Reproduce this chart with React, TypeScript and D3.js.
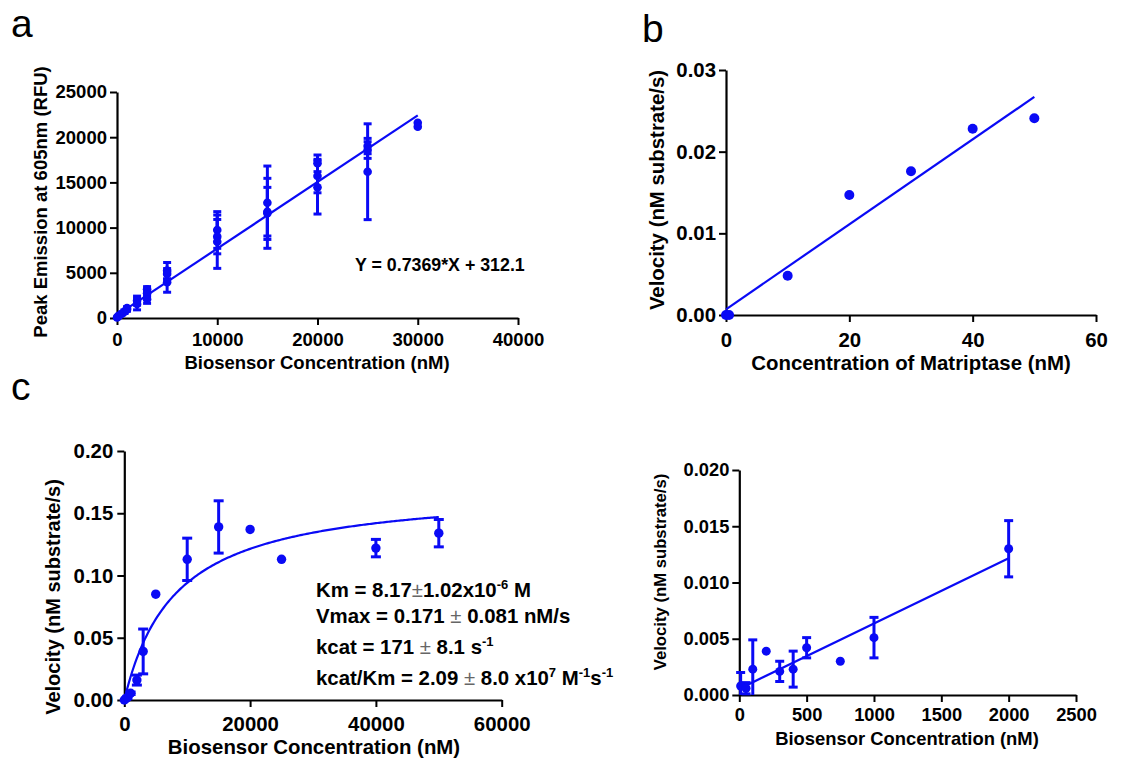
import React, { useEffect, useRef } from 'react';
import * as d3 from 'd3';

// ---- panel a: peak emission vs biosensor concentration (replicates flattened) ----
const aConc = [0, 100, 250, 500, 750, 1000, 1000, 2000, 2000, 3000, 3000, 3000, 5000, 5000, 5000,
  10000, 10000, 10000, 15000, 15000, 15000, 20000, 20000, 20000, 25000, 25000, 25000, 30000, 30000];
const aPeak = [50, 150, 300, 500, 700, 950, 1100, 1920, 1550, 3170, 2730, 2070, 5240, 4870, 3950,
  9735, 9000, 8440, 12750, 11760, 11580, 17110, 15700, 14450, 19020, 18580, 16180, 21600, 21160];
const aErr = [60, 80, 120, 150, 200, 200, 150, 500, 650, 300, 400, 450, 900, 600, 1100,
  2030, 1900, 2950, 4060, 2690, 3870, 920, 1850, 2950, 850, 920, 5300, 0, 0];
const aSlope = 0.7369;
const aIntercept = 312.1;
const aXTicks = [0, 10000, 20000, 30000, 40000];
const aYTicks = [0, 5000, 10000, 15000, 20000, 25000];

// ---- panel b: velocity vs matriptase ----
const bConc = [0, 0.5, 10, 20, 30, 40, 50];
const bVel = [0, 0, 0.0048, 0.0147, 0.0176, 0.0228, 0.0241];
const bSlope = 0.00052;
const bIntercept = 0.0007;
const bXTicks = [0, 20, 40, 60];
const bYTicks = [0, 0.01, 0.02, 0.03];

// ---- panel c: Michaelis-Menten ----
const cConc = [0, 250, 500, 1000, 2000, 3000, 5000, 10000, 15000, 20000, 25000, 40000, 50000];
const cVel = [0, 0.001, 0.002, 0.0054, 0.016, 0.039, 0.085, 0.113, 0.139, 0.137, 0.113, 0.122, 0.134];
const cErr = [0, 0, 0.001, 0.001, 0.004, 0.018, 0, 0.017, 0.021, 0, 0, 0.007, 0.011];
const cVmax = 0.171;
const cKm = 8170;
const cXTicks = [0, 20000, 40000, 60000];
const cYTicks = [0, 0.05, 0.1, 0.15, 0.2];

// ---- panel d: low concentration range ----
const dConc = [10, 50, 100, 200, 300, 400, 500, 750, 1000, 2000];
const dVel = [0.0008, 0.0006, 0.0023, 0.0039, 0.0021, 0.0023, 0.0042, 0.003, 0.0051, 0.013];
const dErr = [0.0012, 0.0005, 0.0026, 0, 0.0009, 0.0016, 0.0009, 0, 0.0018, 0.0025];
const dSlope = 0.0000058;
const dIntercept = 0.00055;
const dXTicks = [0, 500, 1000, 1500, 2000, 2500];
const dYTicks = [0, 0.005, 0.01, 0.015, 0.02];

const BLUE = '#0a0af5';
const FONT = '"Liberation Sans", Arial, sans-serif';

type Panel = {
  xDomain: number[]; xRange: number[]; yDomain: number[]; yRange: number[];
  xTicks: number[]; yTicks: number[]; xFmt: (d: number) => string; yFmt: (d: number) => string;
  fs: number; xPad: number; yPad: number;
};

function drawAxes(g: any, p: Panel) {
  const x = d3.scaleLinear().domain(p.xDomain).range(p.xRange);
  const y = d3.scaleLinear().domain(p.yDomain).range(p.yRange);

  const xAxis = d3.axisBottom(x).tickValues(p.xTicks).tickFormat(p.xFmt as any)
    .tickSize(7).tickSizeOuter(0).tickPadding(p.xPad);
  const yAxis = d3.axisLeft(y).tickValues(p.yTicks).tickFormat(p.yFmt as any)
    .tickSize(7).tickSizeOuter(0).tickPadding(p.yPad);

  const gx = g.append('g').attr('transform', `translate(0,${p.yRange[0]})`).call(xAxis);
  const gy = g.append('g').attr('transform', `translate(${p.xRange[0]},0)`).call(yAxis);
  [gx, gy].forEach(ax => {
    ax.attr('font-family', FONT).attr('font-size', p.fs).attr('font-weight', 'bold');
    ax.select('.domain').attr('stroke', '#000').attr('stroke-width', 2.2);
    ax.selectAll('.tick line').attr('stroke', '#000').attr('stroke-width', 2);
    ax.selectAll('.tick text').attr('fill', '#000');
  });
  return { x, y };
}

function errorBars(g: any, x: any, y: any, xs: number[], ys: number[], es: number[], cap: number) {
  xs.forEach((xv, i) => {
    const e = es[i];
    if (!e) return;
    const lo = Math.max(0, ys[i] - e);
    const hi = ys[i] + e;
    const px = x(xv);
    g.append('line').attr('x1', px).attr('x2', px).attr('y1', y(lo)).attr('y2', y(hi))
      .attr('stroke', BLUE).attr('stroke-width', 3);
    [lo, hi].forEach(v => {
      if (v === 0) return;
      g.append('line').attr('x1', px - cap / 2).attr('x2', px + cap / 2)
        .attr('y1', y(v)).attr('y2', y(v)).attr('stroke', BLUE).attr('stroke-width', 3);
    });
  });
}

function dots(g: any, x: any, y: any, xs: number[], ys: number[], r: number) {
  g.selectAll(null).data(xs).enter().append('circle')
    .attr('cx', (d: number) => x(d)).attr('cy', (_: number, i: number) => y(ys[i]))
    .attr('r', r).attr('fill', BLUE);
}

function fitLine(g: any, pts: [number, number][]) {
  g.append('path').datum(pts)
    .attr('d', d3.line().curve(d3.curveLinear) as any)
    .attr('fill', 'none').attr('stroke', BLUE).attr('stroke-width', 2.2);
}

function title(svg: any, text: string, cx: number, cy: number, fs: number, rotate = false) {
  const t = svg.append('text')
    .attr('font-family', FONT).attr('font-weight', 'bold').attr('font-size', fs)
    .attr('text-anchor', 'middle').attr('fill', '#000').text(text);
  if (rotate) t.attr('transform', `translate(${cx},${cy}) rotate(-90)`).attr('dy', '0.35em');
  else t.attr('x', cx).attr('y', cy);
}

function letter(svg: any, text: string, x: number, y: number) {
  svg.append('text').attr('x', x).attr('y', y).attr('font-family', FONT)
    .attr('font-size', 39).attr('fill', '#000').text(text);
}

export default function App() {
  const ref = useRef<SVGSVGElement>(null);

  useEffect(() => {
    const svg = d3.select(ref.current);
    svg.selectAll('*').remove();
    svg.append('rect').attr('width', 1129).attr('height', 762).attr('fill', '#fff');

    // ---------- a ----------
    const ga = svg.append('g');
    const A = drawAxes(ga, {
      xDomain: [0, 40000], xRange: [117, 518], yDomain: [0, 25000], yRange: [318, 92],
      xTicks: aXTicks, yTicks: aYTicks, xFmt: d => String(d), yFmt: d => String(d),
      fs: 18.5, xPad: 8, yPad: 3,
    });
    fitLine(ga, [0, 30000].map(v => [A.x(v), A.y(aSlope * v + aIntercept)]) as any);
    errorBars(ga, A.x, A.y, aConc, aPeak, aErr, 8);
    dots(ga, A.x, A.y, aConc, aPeak, 4.3);
    ga.append('text').attr('x', 355).attr('y', 271).attr('font-family', FONT)
      .attr('font-weight', 'bold').attr('font-size', 17.8).text('Y = 0.7369*X + 312.1');
    title(svg, 'Biosensor Concentration (nM)', 317, 369, 18.5);
    title(svg, 'Peak Emission at 605nm (RFU)', 41, 202, 18.5, true);

    // ---------- b ----------
    const gb = svg.append('g');
    const B = drawAxes(gb, {
      xDomain: [0, 60], xRange: [726, 1096], yDomain: [0, 0.03], yRange: [315, 70],
      xTicks: bXTicks, yTicks: bYTicks, xFmt: d => String(d), yFmt: d3.format('.2f'),
      fs: 20.4, xPad: 11, yPad: 3,
    });
    fitLine(gb, [0, 50].map(v => [B.x(v), B.y(bSlope * v + bIntercept)]) as any);
    dots(gb, B.x, B.y, bConc, bVel, 5);
    title(svg, 'Concentration of Matriptase (nM)', 911, 370, 20.4);
    title(svg, 'Velocity (nM substrate/s)', 657, 190, 20.4, true);

    // ---------- c ----------
    const gc = svg.append('g');
    const C = drawAxes(gc, {
      xDomain: [0, 60000], xRange: [124.3, 501.7], yDomain: [0, 0.2], yRange: [700, 451],
      xTicks: cXTicks, yTicks: cYTicks, xFmt: d => String(d), yFmt: d3.format('.2f'),
      fs: 20.4, xPad: 10, yPad: 4,
    });
    const mm = d3.range(0, 50001, 250).map(v => [C.x(v), C.y((cVmax * v) / (cKm + v))]);
    fitLine(gc, mm as any);
    errorBars(gc, C.x, C.y, cConc, cVel, cErr, 10);
    dots(gc, C.x, C.y, cConc, cVel, 4.7);

    const eq = gc.append('text').attr('font-family', FONT).attr('font-weight', 'bold')
      .attr('font-size', 20.4).attr('fill', '#000');
    const pm = (t: any) => t.append('tspan').attr('font-weight', 'normal').attr('fill', '#666').text('\u00B1');
    const sup = (t: any, s: string) => {
      t.append('tspan').attr('font-size', 13).attr('dy', -8).text(s);
      return t;
    };
    const down = (t: any, s: string) => t.append('tspan').attr('dy', 8).text(s);

    const l1 = eq.append('tspan').attr('x', 316).attr('y', 597);
    l1.append('tspan').text('Km = 8.17');
    pm(l1);
    l1.append('tspan').text('1.02x10');
    sup(l1, '-6');
    down(l1, ' M');

    const l2 = gc.append('text').attr('font-family', FONT).attr('font-weight', 'bold')
      .attr('font-size', 20.4).attr('x', 316).attr('y', 623);
    l2.append('tspan').text('Vmax = 0.171 ');
    pm(l2);
    l2.append('tspan').text(' 0.081 nM/s');

    const l3 = gc.append('text').attr('font-family', FONT).attr('font-weight', 'bold')
      .attr('font-size', 20.4).attr('x', 316).attr('y', 654);
    l3.append('tspan').text('kcat = 171 ');
    pm(l3);
    l3.append('tspan').text(' 8.1 s');
    sup(l3, '-1');

    const l4 = gc.append('text').attr('font-family', FONT).attr('font-weight', 'bold')
      .attr('font-size', 20.4).attr('x', 316).attr('y', 685);
    l4.append('tspan').text('kcat/Km = 2.09 ');
    pm(l4);
    l4.append('tspan').text(' 8.0 x10');
    sup(l4, '7');
    down(l4, ' M');
    sup(l4, '-1');
    down(l4, 's');
    sup(l4, '-1');

    title(svg, 'Biosensor Concentration (nM)', 314, 754, 20.4);
    title(svg, 'Velocity (nM substrate/s)', 53, 597, 20, true);

    // ---------- d ----------
    const gd = svg.append('g');
    const D = drawAxes(gd, {
      xDomain: [0, 2500], xRange: [739.3, 1076], yDomain: [0, 0.02], yRange: [695, 470],
      xTicks: dXTicks, yTicks: dYTicks, xFmt: d => String(d), yFmt: d3.format('.3f'),
      fs: 18.3, xPad: 6, yPad: 3,
    });
    fitLine(gd, [10, 2000].map(v => [D.x(v), D.y(dSlope * v + dIntercept)]) as any);
    errorBars(gd, D.x, D.y, dConc, dVel, dErr, 9);
    dots(gd, D.x, D.y, dConc, dVel, 4.5);
    title(svg, 'Biosensor Concentration (nM)', 907, 745, 18.4);
    title(svg, 'Velocity (nM substrate/s)', 660, 572, 16.7, true);

    // panel letters
    letter(svg, 'a', 11, 37);
    letter(svg, 'b', 642, 42);
    letter(svg, 'c', 11, 400);
  }, []);

  return (
    <svg ref={ref} width={1129} height={762}
      style={{ position: 'absolute', left: 0, top: 0, display: 'block' }} />
  );
}
